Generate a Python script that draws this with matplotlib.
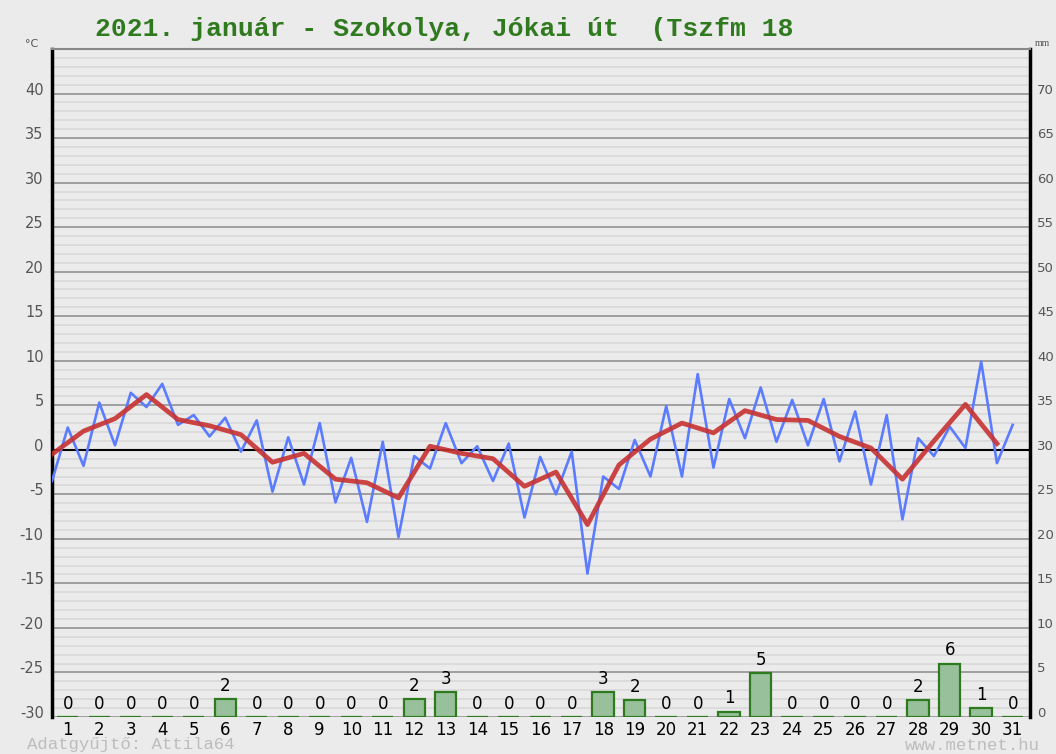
import numpy as np
import matplotlib
matplotlib.use("Agg")
import matplotlib.pyplot as plt
from matplotlib.transforms import ScaledTranslation

# napi adatok, 2021. január
days = list(range(1, 32))
rain_mm = [0, 0, 0, 0, 0, 2.0, 0, 0, 0, 0, 0, 2.0, 2.8, 0, 0, 0, 0, 2.8, 1.9,
           0, 0, 0.6, 4.9, 0, 0, 0, 0, 1.9, 6.0, 1.0, 0]

# félnapos hőmérséklet értékek (kék görbe)
temp_half = [-3.5, 2.5, -1.8, 5.3, 0.5, 6.4, 4.8, 7.4, 2.8, 3.9, 1.5, 3.6,
             -0.2, 3.3, -4.7, 1.4, -3.9, 3.0, -5.9, -0.9, -8.1, 0.9, -9.8, -0.7,
             -2.1, 3.0, -1.5, 0.4, -3.5, 0.7, -7.6, -0.8, -5.0, -0.2, -13.9, -3.0,
             -4.4, 1.1, -3.0, 4.9, -3.0, 8.5, -2.0, 5.7, 1.3, 7.0, 0.9, 5.6,
             0.5, 5.7, -1.3, 4.3, -3.9, 3.9, -7.8, 1.3, -0.7, 2.6, 0.2, 9.9,
             -1.5, 2.8]

# napi középhőmérséklet (piros görbe)
temp_mean = [-0.5, 2.1, 3.5, 6.2, 3.4, 2.7, 1.7, -1.4, -0.4, -3.3, -3.7, -5.4,
             0.4, -0.4, -1.0, -4.1, -2.5, -8.4, -1.7, 1.2, 3.0, 1.9, 4.4, 3.4,
             3.3, 1.5, 0.2, -3.3, 1.0, 5.1, 0.7]

title = "2021. január - Szokolya, Jókai út  (Tszfm 18"

bg = "#ebebeb"
W, H = 1056, 754
fig = plt.figure(figsize=(W / 100, H / 100), dpi=100, facecolor=bg)
ax = fig.add_axes([52 / W, 1 - 717 / H, (1030 - 52) / W, (717 - 49) / H])
ax.set_facecolor(bg)

ax.set_xlim(0, 31.05)
ax.set_ylim(-30, 45)

ax.set_yticks(np.arange(-30, 46, 5))
ax.set_yticks(np.arange(-30, 46, 1), minor=True)
ax.set_yticklabels([str(v) if v != 45 else "" for v in range(-30, 46, 5)])
ax.grid(which="minor", axis="y", color="#d8d8d8", lw=1.2)
ax.grid(which="major", axis="y", color="#9a9a9a", lw=1.3)
ax.axhline(0, color="black", lw=1.5, zorder=2)
ax.tick_params(axis="y", which="both", length=0, pad=6, labelsize=10.5,
               labelcolor="#555555")
ax.set_axisbelow(True)

x_half = np.arange(len(temp_half)) * 0.5
x_day = np.arange(len(temp_mean))
ax.plot(x_half, temp_half, color="#5b7cff", lw=1.9, zorder=3)
ax.plot(x_day, temp_mean, color="#c83232", lw=3.4, alpha=0.9, zorder=4,
        solid_joinstyle="round")

ax.set_xticks(np.array(days) - 0.5)
ax.set_xticklabels([str(d) for d in days])
ax.tick_params(axis="x", length=0, pad=3, labelsize=12, labelcolor="black")

for side in ("left", "right"):
    ax.spines[side].set_color("black")
    ax.spines[side].set_linewidth(2.5)
ax.spines["top"].set_color("#888888")
ax.spines["top"].set_linewidth(1.5)
ax.spines["bottom"].set_visible(False)

# csapadék a jobb tengelyen
ax2 = ax.twinx()
ax2.set_ylim(0, 75)
ax2.set_yticks(np.arange(0, 71, 5))
ax2.tick_params(axis="y", length=0, pad=5, labelsize=9.5, labelcolor="#555555")
for s in ax2.spines.values():
    s.set_visible(False)
ax2.bar(np.array(days) - 0.5, rain_mm, width=0.68, color="#98c19b",
        edgecolor="#2e7a1e", linewidth=1.6, zorder=5)
for d, r in zip(days, rain_mm):
    ax2.annotate(str(int(round(r))), (d - 0.5, r), xytext=(0, 3),
                 textcoords="offset points", ha="center", va="bottom",
                 fontsize=12, color="black")

# tengelyfeliratok kicsit a vonalak fölé
off = ScaledTranslation(0, 5 / 100, fig.dpi_scale_trans)
for lab in ax.get_yticklabels() + ax2.get_yticklabels():
    lab.set_transform(lab.get_transform() + off)

fig.text(95 / W, 1 - 29 / H, title, fontsize=19, family="Liberation Mono",
         weight="bold", color="#2f7a1f", va="center", ha="left")
fig.text(25 / W, 1 - 44 / H, "°C", fontsize=8, color="#555555", va="center")
fig.text(1035 / W, 1 - 44 / H, "mm", fontsize=7, color="#555555", va="center",
         family="Liberation Serif")
fig.text(27 / W, 1 - 745 / H, "Adatgyűjtő: Attila64", fontsize=12.5,
         family="Liberation Mono", color="#bdbdbd", va="center")
fig.text(1040 / W, 1 - 745 / H, "www.metnet.hu", fontsize=12.5,
         family="Liberation Mono", color="#bdbdbd", va="center", ha="right")

fig.savefig("out.png", dpi=100, facecolor=bg)
